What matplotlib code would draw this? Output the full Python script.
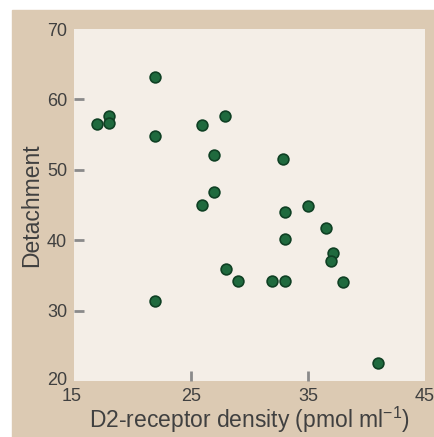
import matplotlib
matplotlib.use('Agg')
import matplotlib.pyplot as plt
from matplotlib.patches import Rectangle
from matplotlib.transforms import ScaledTranslation

plt.rcParams['font.family'] = ['Liberation Sans', 'DejaVu Sans']
plt.rcParams['mathtext.fontset'] = 'custom'
plt.rcParams['mathtext.rm'] = 'Liberation Sans'
plt.rcParams['mathtext.it'] = 'Liberation Sans'

# D2-receptor density (pmol/ml) vs detachment score
density = [17.0, 18.0, 18.0, 21.9, 21.9, 25.9, 27.9, 27.0, 27.0, 25.9,
           32.9, 33.0, 35.0, 36.5, 33.0, 37.1, 37.0, 28.0, 29.0, 31.9,
           33.0, 38.0, 21.9, 41.0]
detach = [56.5, 57.7, 56.6, 63.2, 54.8, 56.3, 57.7, 52.1, 46.8, 45.0,
          51.6, 44.0, 44.9, 41.7, 40.1, 38.2, 37.1, 35.9, 34.2, 34.2,
          34.2, 34.1, 31.4, 22.5]

# labelled ticks (no marks) and marked ticks (no labels)
xlabels_at = [15, 25, 35, 45]
ylabels_at = [20, 30, 40, 50, 60, 70]
xmarks_at = [25, 35]
ymarks_at = [30, 40, 50, 60]

tan = '#dccab3'
paper = '#f4eee7'
grey = '#404040'

fig = plt.figure(figsize=(4.34, 4.37), dpi=100, facecolor='white')
fig.patches.append(Rectangle((12 / 434, 0), 1, 1 - 10 / 437,
                             transform=fig.transFigure, color=tan, zorder=-10))

ax = fig.add_axes([74 / 434, 1 - 381 / 437, 351 / 434, 352 / 437])
ax.set_facecolor(paper)
for s in ax.spines.values():
    s.set_visible(False)

ax.scatter(density, detach, s=60, color='#1f6a3e', edgecolors='#0f4024',
           linewidths=1.2, zorder=3)

ax.set_xlim(15, 45)
ax.set_ylim(20, 70)
ax.xaxis.remove_overlapping_locs = False
ax.yaxis.remove_overlapping_locs = False
ax.set_xticks(xlabels_at)
ax.set_yticks(ylabels_at)
ax.set_xticks(xmarks_at, minor=True)
ax.set_yticks(ymarks_at, minor=True)
ax.tick_params(which='major', length=0, labelsize=13, labelcolor=grey)
ax.tick_params(which='minor', direction='in', length=7, width=2,
               color='#8a8a8a')
ax.tick_params(axis='x', which='major', pad=5)
ax.tick_params(axis='y', which='major', pad=5)

# nudge the corner labels apart a little, as in the original
first_x = ax.get_xticklabels()[0]
first_x.set_transform(first_x.get_transform() +
                      ScaledTranslation(-1.5 / 72, 0, fig.dpi_scale_trans))
first_y = ax.get_yticklabels()[0]
first_y.set_transform(first_y.get_transform() +
                      ScaledTranslation(0, 2 / 72, fig.dpi_scale_trans))

ax.set_xlabel('D2-receptor density (pmol ml$^{-1}$)', fontsize=16.5,
              color=grey, labelpad=0)
ax.set_ylabel('Detachment', fontsize=16.5, color=grey, labelpad=3)

fig.savefig('out.png', dpi=100, facecolor='white')
